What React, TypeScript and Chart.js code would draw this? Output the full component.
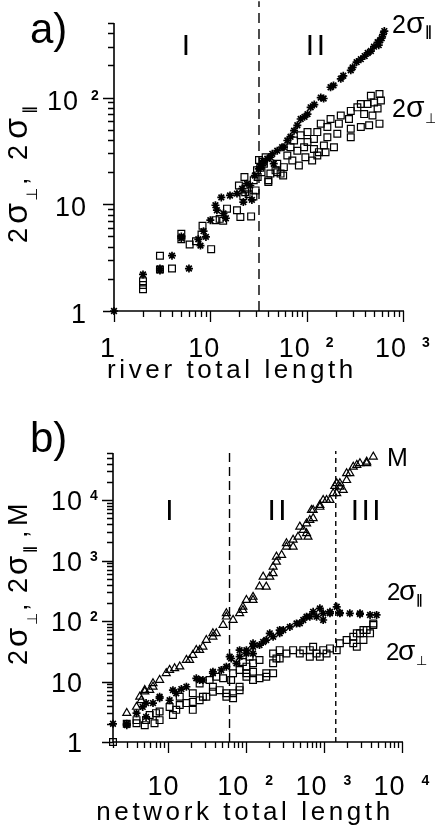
import React, { useEffect, useRef } from "react";
import { Chart, registerables } from "chart.js";

Chart.register(...registerables);

// ---------------- DATA ----------------
// panel a) : river total length
const riverTicksX = [1, 10, 100, 1000];
const riverTickLabelsX = ["1", "10", "10^2", "10^3"];
const riverTicksY = [1, 10, 100];
const riverTickLabelsY = ["1", "10", "10^2"];
const riverBoundary = [32];
const riverRegions = ["I", "II"];
const riverRegionsAt = [5.6, 124];

const riverSigmaPar: [number, number][] = [
  [1, 1], [2, 2.2], [3, 2.5], [3, 2.4], [4, 3.3], [6, 2.5], [5, 5.0], [5, 4.8],
  [7.5, 4.7], [7.9, 4.1], [9, 4.95], [8.5, 5.6], [10, 7.1], [11.3, 9.8], [11.7, 8.8],
  [13, 11.6], [13.7, 8.2], [14.5, 7.4], [16, 12.1], [18.9, 12.6], [21.4, 14], [24, 15.6],
  [26, 15], [22, 10.5], [27, 11], [29, 18.6], [31.8, 21.5], [34.4, 23], [33, 22.3],
  [36, 25], [39, 26.7], [42, 27.6], [44, 29.7], [45.5, 24], [49.5, 31.8], [55.6, 34.3],
  [58, 34.3], [63, 39.6], [68, 43], [74, 49], [80, 55], [86.6, 63], [95, 66], [102, 70],
  [110, 81], [120, 86], [140, 100], [150, 98], [177, 125], [190, 130], [226, 150],
  [240, 160], [287, 180], [300, 192], [330, 215], [365, 229], [400, 245], [430, 262],
  [464, 273], [500, 300], [545, 330], [560, 310], [580, 345], [600, 360], [620, 390], [640, 420],
];

const riverSigmaPerp: [number, number][] = [
  [2, 1.6], [2, 1.75], [2, 1.9], [3, 3.3], [3, 2.45], [4, 2.5], [5, 5.3], [5, 4.7],
  [6.1, 4.2], [7.1, 4.5], [8.3, 6.3], [8.1, 5.2], [10.2, 3.8], [11.3, 7.1], [12.5, 7.3],
  [13.6, 7.0], [14.9, 9.1], [18.9, 8.8], [20.5, 7.6], [26.5, 7.7], [22, 11.9], [25, 12.4],
  [28, 11.8], [22.6, 18], [19.8, 15], [24, 14], [23, 13], [31, 18], [33, 22], [35, 25],
  [34, 20], [32, 26], [36, 24], [37.5, 27.6], [40, 16.8], [40, 16.2], [42, 19.4],
  [47.5, 20.8], [49.5, 20], [49.5, 24], [53.6, 19.4], [57, 18.6], [58, 22.3], [63, 28.7],
  [71, 25.7], [68, 34.3], [74, 39.6], [80, 31.8], [86.6, 44.3], [94, 34.3], [97, 27.6],
  [102, 38.3], [102, 47.5], [114, 25.7], [119, 41], [119, 33], [129, 47.5], [134, 30.8],
  [140, 57], [151, 35.5], [164, 53], [164, 42.5], [177, 63], [192, 34.3], [208, 45.8],
  [216, 57], [226, 68], [275, 63], [287, 75], [287, 51], [287, 42.5], [336, 81], [365, 87],
  [365, 53], [395, 70], [429, 87], [445, 55], [464, 104], [482, 68], [500, 90], [545, 79],
  [570, 108], [590, 94], [570, 57], [29.5, 13.5], [28.2, 16.8], [30.5, 20.8], [83, 23.1],
  [129, 28.7], [157, 30.8],
];

// panel b) : network total length
const networkTicksX = [10, 100, 1000, 10000];
const networkTickLabelsX = ["10", "10^2", "10^3", "10^4"];
const networkTicksY = [1, 10, 100, 1000, 10000];
const networkTickLabelsY = ["1", "10", "10^2", "10^3", "10^4"];
const networkBoundaries = [62, 1420];
const networkRegions = ["I", "II", "III"];
const networkRegionsAt = [10.6, 253, 3450];

const networkMass: [number, number][] = [
  [3, 3.0], [4, 3.8], [4.4, 5.6], [4.6, 4.9], [5.1, 6.8], [5.1, 7.2], [5.9, 7.2], [6.5, 8.2],
  [6.5, 9.3], [7.9, 10.6], [9.6, 13.7], [10.6, 15.5], [12.3, 16.5], [14.3, 17.6], [17.4, 22.7],
  [19.1, 22.7], [21, 27.4], [23.3, 33], [25.7, 33], [28.3, 37.6], [31.3, 48.5], [38, 55],
  [38, 62.6], [42, 62.6], [51.3, 86], [56.5, 118], [56.5, 134], [68.8, 104], [83.5, 134],
  [92, 151], [92, 172], [102, 222], [124, 222], [124, 250], [150, 370], [167, 540], [183, 369],
  [203, 540], [224, 615], [224, 790], [247, 950], [247, 1156], [288, 1230], [332, 1690],
  [332, 1923], [404, 1690], [404, 2200], [467, 2470], [492, 3620], [545, 3200], [600, 4100],
  [600, 2810], [626, 2470], [661, 4670], [694, 6840], [729, 5000], [729, 6840], [889, 7700],
  [889, 8270], [980, 10000], [1083, 10000], [1197, 10000], [1316, 12900], [1380, 17000],
  [1460, 12900], [1460, 18900], [1603, 16500], [1603, 18900], [1770, 14600], [1955, 21300],
  [1955, 27600], [2150, 27600], [2377, 35500], [2640, 38000], [2895, 40400], [3527, 43000],
  [3530, 40400], [4290, 52000],
];

const networkSigmaPar: [number, number][] = [
  [2, 2], [3, 1.9], [3, 2], [4, 3], [4.8, 3.8], [5.3, 2.6], [5.3, 4.4], [6.5, 4.4], [7.9, 5.3],
  [7.9, 5.6], [10.6, 4.9], [11.7, 7.2], [12.9, 6.4], [15, 7.5], [17.4, 8.2], [23.3, 11.3],
  [25.7, 10.6], [28.3, 10.6], [38, 13.7], [38, 14.5], [48.6, 15.5], [56.5, 17.6], [62.3, 25.7],
  [65, 24], [76, 20], [83.5, 33], [83.5, 25.7], [102, 29], [102, 33], [124, 42.8], [124, 29],
  [124, 37.6], [150, 40], [167, 45], [183, 48.5], [203, 62.6], [224, 55], [272, 71],
  [272, 62.6], [302, 71], [367, 80], [447, 91], [492, 91.6], [545, 104], [600, 118],
  [661, 118], [729, 142], [806, 118], [889, 162], [980, 104], [980, 134], [1197, 134],
  [1197, 142], [1460, 172], [1603, 134], [1603, 137], [2150, 134], [2900, 134], [2895, 130],
  [3900, 126], [4730, 126],
];

const networkSigmaPerp: [number, number][] = [
  [2, 1], [3, 2], [4, 2.04], [4, 2.3], [5.1, 1.9], [5.3, 2.3], [5.9, 2.8], [6.8, 2.04],
  [7.1, 3], [7.9, 2.3], [7.9, 3.2], [10.6, 3.8], [11.7, 2.8], [12.9, 3.4], [14.3, 4.1],
  [14.3, 5.6], [17.4, 4.4], [21, 4.6], [21, 3.4], [21, 6.4], [25.7, 4.9], [25.7, 9.3],
  [28.3, 5.6], [31.3, 5.6], [34.5, 10.6], [38, 6.8], [38, 8.2], [42, 12], [46.4, 7.2],
  [51.3, 11.3], [56.5, 5.6], [56.5, 6.4], [65, 10.6], [68.8, 5.3], [68.8, 6.4], [68.8, 13.7],
  [83.5, 7.2], [83.5, 8.2], [83.5, 15.5], [92, 21], [102, 12], [102, 13.7], [102, 17.6],
  [112, 25.7], [124, 10.6], [124, 14.5], [124, 20], [150, 11.3], [150, 22.7], [183, 12],
  [183, 13.7], [224, 13.7], [224, 20], [224, 29], [247, 24], [272, 33], [272, 24], [332, 29],
  [404, 33], [492, 29], [545, 33], [661, 25.7], [661, 33], [729, 37.6], [806, 29], [889, 25.7],
  [980, 33], [1083, 29], [1197, 35.3], [1460, 33], [1603, 42.8], [1955, 48.5], [2377, 42.8],
  [2377, 55], [2640, 37.6], [2640, 62.6], [2900, 62.6], [3210, 48.5], [3210, 71], [3530, 71],
  [3900, 62.6], [4290, 86], [4290, 91],
];

// ---------------- DRAWING ----------------
const F = '"Liberation Sans", Arial, Helvetica, sans-serif';
const FS = '"DejaVu Sans", sans-serif';

type Part = { t: string; font: string; dx: number; dy?: number };

interface Decor {
  xTicks: number[]; xLabels: string[]; yTicks: number[]; yLabels: string[];
  xLabelDy: number; xSupGap: number; xPlainShift: number;
  yLabelDy: number; yPlainRight: number; ySupBaseRight: number; ySupGap: number;
  xTitle: string; xTitleX: number; xTitleY: number;
  panel: string; panelX: number; panelY: number;
  regions: string[]; regionsAt: number[]; regionY: number;
  yTitle: Part[]; yTitleX: number; yTitleY: number;
  side: { parts: Part[]; x: number; y: number }[];
}

function drawParts(ctx: CanvasRenderingContext2D, x: number, y: number, parts: Part[], rotate: boolean) {
  ctx.save();
  ctx.translate(x, y);
  if (rotate) ctx.rotate(-Math.PI / 2);
  ctx.textAlign = "left";
  ctx.textBaseline = "alphabetic";
  for (const p of parts) {
    ctx.font = p.font;
    ctx.fillText(p.t, p.dx, p.dy || 0);
  }
  ctx.restore();
}

function decorPlugin(d: Decor) {
  return {
    id: "decor",
    afterDraw(chart: any) {
      const ctx: CanvasRenderingContext2D = chart.ctx;
      const xs = chart.scales.x;
      const ys = chart.scales.y;
      const x0 = xs.getPixelForValue(xs.min);
      const x1 = xs.getPixelForValue(xs.max);
      const y0 = ys.getPixelForValue(ys.min);
      const y1 = ys.getPixelForValue(ys.max);
      ctx.save();
      ctx.fillStyle = "#000";
      ctx.strokeStyle = "#000";
      ctx.lineWidth = 1.6;
      ctx.beginPath();
      ctx.moveTo(x0, y0);
      ctx.lineTo(x1 + 1, y0);
      ctx.moveTo(x0, y0);
      ctx.lineTo(x0, y1);
      ctx.stroke();
      ctx.lineWidth = 1.3;
      const logTicks = (mn: number, mx: number) => {
        const out: { v: number; major: boolean }[] = [];
        for (let e = Math.floor(Math.log10(mn)); e <= Math.ceil(Math.log10(mx)); e++) {
          for (let m = 1; m <= 9; m++) {
            const v = m * Math.pow(10, e);
            if (v < mn * 0.999 || v > mx * 1.001) continue;
            out.push({ v, major: m === 1 });
          }
        }
        return out;
      };
      ctx.beginPath();
      for (const t of logTicks(xs.min, xs.max)) {
        const px = Math.round(xs.getPixelForValue(t.v)) + 0.5;
        ctx.moveTo(px, y0);
        ctx.lineTo(px, y0 + (t.major ? 11 : 6));
      }
      for (const t of logTicks(ys.min, ys.max)) {
        const py = Math.round(ys.getPixelForValue(t.v)) + 0.5;
        ctx.moveTo(x0, py);
        ctx.lineTo(x0 - (t.major ? 11 : 6), py);
      }
      ctx.stroke();

      // tick labels
      const baseFont = `27px ${F}`;
      const supFont = `bold 14px ${F}`;
      (ctx as any).letterSpacing = "1px";
      ctx.textBaseline = "alphabetic";
      d.xTicks.forEach((v, i) => {
        const [base, sup] = d.xLabels[i].split("^");
        ctx.font = baseFont;
        const wb = ctx.measureText(base).width;
        ctx.font = supFont;
        const ws = sup ? ctx.measureText(sup).width : 0;
        const gap = sup ? d.xSupGap : 0;
        const px = xs.getPixelForValue(v);
        const sx = px - (wb + gap + ws) / 2 + (sup ? 0 : d.xPlainShift);
        ctx.textAlign = "left";
        ctx.font = baseFont;
        ctx.fillText(base, sx, y0 + d.xLabelDy);
        if (sup) {
          ctx.font = supFont;
          ctx.fillText(sup, sx + wb + gap, y0 + d.xLabelDy - 10);
        }
      });
      d.yTicks.forEach((v, i) => {
        const [base, sup] = d.yLabels[i].split("^");
        const py = ys.getPixelForValue(v) + d.yLabelDy;
        ctx.font = baseFont;
        ctx.textAlign = "right";
        if (sup) {
          ctx.fillText(base, d.ySupBaseRight, py);
          ctx.font = supFont;
          ctx.textAlign = "left";
          ctx.fillText(sup, d.ySupBaseRight + d.ySupGap, py - 10);
        } else {
          ctx.fillText(base, d.yPlainRight, py);
        }
      });

      // x title
      (ctx as any).letterSpacing = "3.6px";
      ctx.font = `26px ${F}`;
      ctx.textAlign = "center";
      ctx.fillText(d.xTitle, d.xTitleX, d.xTitleY);

      // region labels
      (ctx as any).letterSpacing = "2.5px";
      ctx.font = `30px ${F}`;
      d.regions.forEach((r, i) => {
        const px = xs.getPixelForValue(d.regionsAt[i]);
        ctx.fillText(r, px + 1, d.regionY);
      });

      // panel label
      (ctx as any).letterSpacing = "0px";
      ctx.font = `42px ${F}`;
      ctx.textAlign = "left";
      ctx.fillText(d.panel, d.panelX, d.panelY);

      // y title (rotated) and series labels
      drawParts(ctx, d.yTitleX, d.yTitleY, d.yTitle, true);
      for (const s of d.side) drawParts(ctx, s.x, s.y, s.parts, false);
      ctx.restore();
    },
  };
}

const pts = (a: [number, number][]) => a.map(([x, y]) => ({ x, y }));

const starSet = (label: string, data: [number, number][]) => ({
  label, data: pts(data), pointStyle: "star", pointRadius: 4, borderWidth: 1.7,
  borderColor: "#000", backgroundColor: "#000", clip: false as any,
});
const rectSet = (label: string, data: [number, number][]) => ({
  label, data: pts(data), pointStyle: "rect", pointRadius: 4.8, borderWidth: 1.2,
  borderColor: "#000", backgroundColor: "rgba(255,255,255,0)", clip: false as any,
});
const triSet = (label: string, data: [number, number][]) => ({
  label, data: pts(data), pointStyle: "triangle", pointRadius: 4.6, borderWidth: 1.2,
  borderColor: "#000", backgroundColor: "rgba(255,255,255,0)", clip: false as any,
});
const dashSet = (x: number, yLo: number, yHi: number, dash: number[]) => ({
  type: "line" as const, label: "boundary", data: [{ x, y: yLo }, { x, y: yHi }],
  showLine: true, borderColor: "#000", borderWidth: 1.4, borderDash: dash,
  pointRadius: 0, clip: false as any,
});

function makeOptions(padding: any, xMin: number, xMax: number, yMin: number, yMax: number) {
  return {
    animation: false as const,
    responsive: false,
    events: [] as any,
    layout: { padding },
    scales: {
      x: { type: "logarithmic" as const, min: xMin, max: xMax, display: false },
      y: { type: "logarithmic" as const, min: yMin, max: yMax, display: false },
    },
    plugins: { legend: { display: false }, tooltip: { enabled: false } },
  };
}

const sig = (px: number) => `${px}px ${F}`;

const topDecor: Decor = {
  xTicks: riverTicksX, xLabels: riverTickLabelsX, yTicks: riverTicksY, yLabels: riverTickLabelsY,
  xLabelDy: 46, xSupGap: 15, xPlainShift: -6,
  yLabelDy: 12, yPlainRight: 87, ySupBaseRight: 79, ySupGap: 12,
  xTitle: "river total length", xTitleX: 232, xTitleY: 378,
  panel: "a)", panelX: 30, panelY: 43,
  regions: riverRegions, regionsAt: riverRegionsAt, regionY: 55,
  yTitle: [
    { t: "2", font: sig(27), dx: 0 },
    { t: "σ", font: sig(34), dx: 19 },
    { t: "⊥", font: `15px ${FS}`, dx: 42, dy: 10 },
    { t: ",", font: sig(27), dx: 58 },
    { t: "2", font: sig(27), dx: 83 },
    { t: "σ", font: sig(34), dx: 104 },
    { t: "∥", font: `bold 15px ${FS}`, dx: 129, dy: 7 },
  ],
  yTitleX: 27, yTitleY: 243,
  side: [
    { x: 392, y: 33, parts: [
      { t: "2", font: sig(25), dx: 0 }, { t: "σ", font: sig(30), dx: 14 },
      { t: "∥", font: `bold 14px ${FS}`, dx: 33, dy: 3 } ] },
    { x: 392, y: 117, parts: [
      { t: "2", font: sig(25), dx: 0 }, { t: "σ", font: sig(30), dx: 14 },
      { t: "⊥", font: `14px ${FS}`, dx: 33, dy: 6 } ] },
  ],
};

const B = 414; // page offset of the lower canvas
const botDecor: Decor = {
  xTicks: networkTicksX, xLabels: networkTickLabelsX, yTicks: networkTicksY, yLabels: networkTickLabelsY,
  xLabelDy: 53, xSupGap: 16, xPlainShift: -4,
  yLabelDy: 10, yPlainRight: 83, ySupBaseRight: 83, ySupGap: 7,
  xTitle: "network total length", xTitleX: 245, xTitleY: 820 - B,
  panel: "b)", panelX: 30, panelY: 452 - B,
  regions: networkRegions, regionsAt: networkRegionsAt, regionY: 520 - B,
  yTitle: [
    { t: "2", font: sig(27), dx: 0 },
    { t: "σ", font: sig(31), dx: 18 },
    { t: "⊥", font: `14px ${FS}`, dx: 40, dy: 10 },
    { t: ",", font: sig(27), dx: 54 },
    { t: "2", font: sig(27), dx: 72 },
    { t: "σ", font: sig(31), dx: 90 },
    { t: "∥", font: `bold 14px ${FS}`, dx: 112, dy: 7 },
    { t: ",", font: sig(27), dx: 127 },
    { t: "M", font: sig(27), dx: 139 },
  ],
  yTitleX: 27, yTitleY: 665 - B,
  side: [
    { x: 387, y: 466 - B, parts: [{ t: "M", font: sig(25), dx: 0 }] },
    { x: 387, y: 600 - B, parts: [
      { t: "2", font: sig(24), dx: 0 }, { t: "σ", font: sig(28), dx: 12 },
      { t: "∥", font: `bold 13px ${FS}`, dx: 29, dy: 4 } ] },
    { x: 386, y: 660 - B, parts: [
      { t: "2", font: sig(24), dx: 0 }, { t: "σ", font: sig(28), dx: 12 },
      { t: "⊥", font: `13px ${FS}`, dx: 30, dy: 5 } ] },
  ],
};

export default function App() {
  const topRef = useRef<HTMLCanvasElement>(null);
  const botRef = useRef<HTMLCanvasElement>(null);

  useEffect(() => {
    const c1 = new Chart(topRef.current as HTMLCanvasElement, {
      type: "scatter",
      data: {
        datasets: [
          starSet("2σ∥", riverSigmaPar),
          rectSet("2σ⊥", riverSigmaPerp),
          dashSet(riverBoundary[0], 1, 800, [10, 6]) as any,
        ],
      },
      options: makeOptions({ left: 114, right: 32, top: 23, bottom: 103 }, 1, 1000, 1, 500) as any,
      plugins: [decorPlugin(topDecor)],
    });
    const c2 = new Chart(botRef.current as HTMLCanvasElement, {
      type: "scatter",
      data: {
        datasets: [
          starSet("2σ∥", networkSigmaPar),
          rectSet("2σ⊥", networkSigmaPerp),
          triSet("M", networkMass),
          dashSet(networkBoundaries[0], 1, 65000, [9, 5]) as any,
          dashSet(networkBoundaries[1], 1, 65000, [5, 4]) as any,
        ],
      },
      options: makeOptions({ left: 113, right: 33, top: 39, bottom: 86 }, 2, 10000, 1, 60000) as any,
      plugins: [decorPlugin(botDecor)],
    });
    return () => {
      c1.destroy();
      c2.destroy();
    };
  }, []);

  return (
    <div style={{ position: "absolute", left: 0, top: 0, width: 435, height: 828, background: "#fff" }}>
      <canvas ref={topRef} width={435} height={414}
        style={{ position: "absolute", left: 0, top: 0, width: 435, height: 414 }} />
      <canvas ref={botRef} width={435} height={414}
        style={{ position: "absolute", left: 0, top: 414, width: 435, height: 414 }} />
    </div>
  );
}
